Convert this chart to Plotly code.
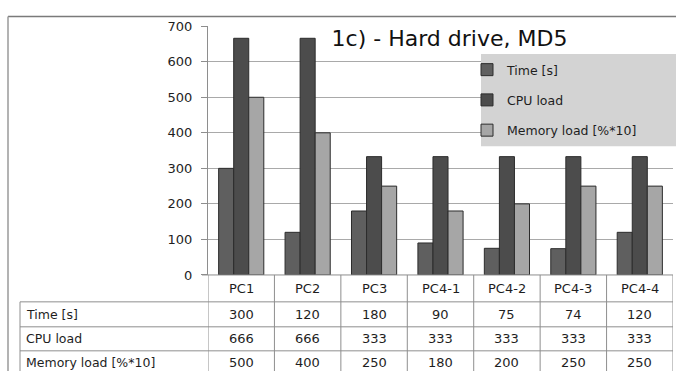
import plotly.graph_objects as go

# Data
categories = ["PC1", "PC2", "PC3", "PC4-1", "PC4-2", "PC4-3", "PC4-4"]
time_s = [300, 120, 180, 90, 75, 74, 120]
cpu_load = [666, 666, 333, 333, 333, 333, 333]
memory_load = [500, 400, 250, 180, 200, 250, 250]
series_names = ["Time [s]", "CPU load", "Memory load [%*10]"]
y_ticks = [0, 100, 200, 300, 400, 500, 600, 700]
title_text = "1c) - Hard drive, MD5"

series_values = [time_s, cpu_load, memory_load]
series_colors = ["#5f5f5f", "#4c4c4c", "#a6a6a6"]

W, H = 676, 379
FONT = "DejaVu Sans"
TEXT = "#1e1e1e"
GRID = "#a9a9a9"
TABLE_LINE = "#8e8e8e"


def fx(x):
    """pixel x -> paper fraction"""
    return x / W


def fy(y):
    """pixel y (from top) -> paper fraction"""
    return 1 - y / H


fig = go.Figure()
for name, vals, col in zip(series_names, series_values, series_colors):
    fig.add_trace(go.Bar(
        x=categories, y=vals, name=name, legendgroup=name,
        marker=dict(color=col, line=dict(color="#2c2c2c", width=1)),
    ))

# plot area geometry
plot_left, plot_right = 208, 673
plot_top, plot_bottom = 20, 279
rows_y = [307, 333, 358]           # separators between table rows
row_label_x = 20

shapes = []
# outer frame (top and left edges)
shapes.append(dict(type="line", xref="paper", yref="paper",
                   x0=fx(8), x1=1, y0=fy(10), y1=fy(10),
                   line=dict(color="#7a7a7a", width=1.5)))
shapes.append(dict(type="line", xref="paper", yref="paper",
                   x0=fx(8), x1=fx(8), y0=fy(10), y1=0,
                   line=dict(color="#9a9a9a", width=1.5)))
# table: baseline under the bars
shapes.append(dict(type="line", xref="paper", yref="paper",
                   x0=fx(plot_left - 6), x1=fx(plot_right), y0=fy(plot_bottom), y1=fy(plot_bottom),
                   line=dict(color=TABLE_LINE, width=1)))
# table: horizontal row separators
for ry in rows_y:
    shapes.append(dict(type="line", xref="paper", yref="paper",
                       x0=fx(row_label_x), x1=fx(plot_right), y0=fy(ry), y1=fy(ry),
                       line=dict(color=TABLE_LINE, width=1)))
# table: left edge of the row-label column
shapes.append(dict(type="line", xref="paper", yref="paper",
                   x0=fx(row_label_x), x1=fx(row_label_x), y0=fy(rows_y[0]), y1=0,
                   line=dict(color=TABLE_LINE, width=1)))
# table: column separators at category boundaries
for i in range(len(categories) + 1):
    shapes.append(dict(type="line", xref="x", yref="paper",
                       x0=i - 0.5, x1=i - 0.5, y0=fy(plot_bottom), y1=0,
                       line=dict(color=TABLE_LINE, width=1)))
# legend panel
shapes.append(dict(type="rect", xref="paper", yref="paper",
                   x0=fx(481), x1=1, y0=fy(145), y1=fy(49),
                   fillcolor="#d3d3d3", line=dict(width=0), layer="above"))

annotations = []
# column headers
for cat in categories:
    annotations.append(dict(x=cat, xref="x", y=fy(293), yref="paper",
                            text=cat, showarrow=False,
                            font=dict(family=FONT, size=13, color=TEXT),
                            xanchor="center", yanchor="middle"))
# table rows
row_centers = [320, 345.5, 370]
for name, vals, yc in zip(series_names, series_values, row_centers):
    annotations.append(dict(x=fx(row_label_x + 4), xref="paper", y=fy(yc), yref="paper",
                            text=name, showarrow=False,
                            font=dict(family=FONT, size=12.5, color=TEXT),
                            xanchor="left", yanchor="middle"))
    for cat, v in zip(categories, vals):
        annotations.append(dict(x=cat, xref="x", y=fy(yc), yref="paper",
                                text=str(v), showarrow=False,
                                font=dict(family=FONT, size=13, color=TEXT),
                                xanchor="center", yanchor="middle"))

fig.update_layout(
    width=W, height=H,
    margin=dict(l=0, r=0, t=0, b=0),
    paper_bgcolor="white", plot_bgcolor="white",
    barmode="group", bargap=0.32, bargroupgap=0,
    title=dict(text=title_text, x=fx(449.5), y=fy(38.5),
               xanchor="center", yanchor="middle",
               font=dict(family=FONT, size=22, color="#111111")),
    xaxis=dict(domain=[fx(plot_left), fx(plot_right)], type="category",
               range=[-0.5, len(categories) - 0.5],
               showticklabels=False, showgrid=False, zeroline=False,
               showline=False, ticks=""),
    yaxis=dict(domain=[fy(plot_bottom), fy(plot_top)], range=[0, 700],
               tickvals=y_ticks, showgrid=True, gridcolor=GRID, gridwidth=1,
               zeroline=False, showline=True, linecolor=TABLE_LINE, linewidth=1,
               ticks="outside", ticklen=6, tickcolor=TABLE_LINE,
               ticklabelstandoff=6,
               tickfont=dict(family=FONT, size=13, color=TEXT)),
    legend=dict(x=fx(467), y=fy(50), xanchor="left", yanchor="top",
                bgcolor="rgba(0,0,0,0)", traceorder="grouped",
                tracegroupgap=11, itemwidth=30,
                font=dict(family=FONT, size=12.5, color=TEXT)),
    shapes=shapes,
    annotations=annotations,
)

fig.write_html("out.html")
